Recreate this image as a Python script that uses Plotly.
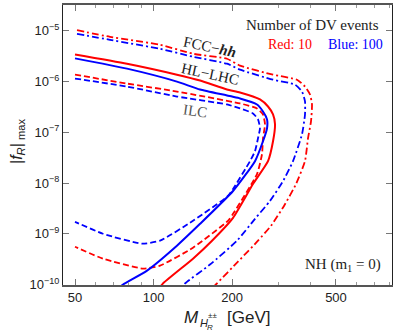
import plotly.graph_objects as go

# ---------------- data ----------------
# FCC-hh, 10 events (red dash-dot)
fcc10_M = [50.9, 68.1, 105.9, 141.6, 191.1, 214.4, 286.9, 354.5, 380.4, 397.6, 404.6, 401.1, 390.6, 380.4, 351.3, 316.1, 281.8, 251.3, 210.6, 175.0, 169.0]
fcc10_f = [1.03e-5, 7.62e-6, 5.31e-6, 3.54e-6, 2.82e-6, 2.06e-6, 1.37e-6, 1.09e-6, 7.97e-7, 5.56e-7, 3.54e-7, 1.64e-7, 7.62e-8, 2.70e-8, 9.55e-9, 3.54e-9, 1.44e-9, 7.3e-10, 2.82e-10, 1.05e-10, 8.8e-11]
# FCC-hh, 100 events (blue dash-dot)
fcc100_M = [50.9, 68.1, 105.9, 141.6, 191.1, 214.4, 286.9, 348.3, 370.5, 380.4, 380.4, 370.5, 342.2, 313.3, 279.3, 244.7, 208.8, 164.5, 132.0, 127.4]
fcc100_f = [8.73e-6, 6.66e-6, 4.43e-6, 3.09e-6, 2.25e-6, 1.72e-6, 1.09e-6, 8.73e-7, 6.37e-7, 4.06e-7, 2.25e-7, 9.14e-8, 2.70e-8, 1.09e-8, 4.44e-9, 1.97e-9, 7.3e-10, 2.47e-10, 1.05e-10, 8.3e-11]
# HL-LHC, 10 events (red solid)
hl10_M = [50.0, 79.1, 122.9, 150.7, 191.1, 214.4, 255.7, 274.5, 286.9, 292.0, 286.9, 274.5, 240.4, 201.6, 167.5, 141.6, 108.7, 104.9]
hl10_f = [3.43e-6, 2.25e-6, 1.37e-6, 1.05e-6, 7.0e-7, 6.1e-7, 4.44e-7, 3.23e-7, 2.25e-7, 1.44e-7, 6.66e-8, 2.70e-8, 9.55e-9, 2.06e-9, 7.3e-10, 3.23e-10, 1.05e-10, 8.3e-11]
# HL-LHC, 100 events (blue solid)
hl100_M = [50.0, 79.1, 122.9, 150.7, 214.4, 249.1, 262.6, 272.1, 272.1, 262.6, 244.7, 201.6, 150.7, 122.9, 94.4, 76.4, 73.1]
hl100_f = [2.87e-6, 1.80e-6, 1.0e-6, 6.97e-7, 4.65e-7, 3.54e-7, 2.58e-7, 1.80e-7, 1.20e-7, 6.66e-8, 2.70e-8, 6.97e-9, 1.57e-9, 5.82e-10, 1.88e-10, 1.0e-10, 8.3e-11]
# ILC, 10 events (red dashed)
ilc10_M = [50.0, 79.1, 122.9, 214.4, 249.1, 262.6, 267.3, 262.6, 260.3, 249.1, 201.6, 192.8, 141.6, 105.9, 91.1, 64.0, 50.0]
ilc10_f = [1.37e-6, 9.14e-7, 6.37e-7, 3.71e-7, 2.96e-7, 2.25e-7, 1.44e-7, 7.62e-8, 3.71e-8, 1.50e-8, 2.47e-9, 1.80e-9, 5.31e-10, 2.36e-10, 2.06e-10, 3.23e-10, 5.56e-10]
# ILC, 100 events (blue dashed)
ilc100_M = [50.0, 79.1, 122.9, 191.1, 214.4, 240.4, 251.3, 255.7, 251.3, 244.7, 234.2, 201.6, 192.8, 141.6, 105.9, 90.3, 64.0, 50.0]
ilc100_f = [1.15e-6, 7.97e-7, 5.08e-7, 3.54e-7, 2.96e-7, 2.36e-7, 1.80e-7, 1.20e-7, 7.62e-8, 4.24e-8, 2.70e-8, 7.62e-9, 5.56e-9, 1.80e-9, 7.3e-10, 6.37e-10, 1.0e-9, 1.72e-9]

x_tickvals = [50, 100, 200, 500]
x_ticktext = ["50", "100", "200", "500"]
x_minor = [60, 70, 80, 90, 150, 300, 400, 600, 700, 800]
y_tickvals = [1e-10, 1e-9, 1e-8, 1e-7, 1e-6, 1e-5]
y_ticktext = ["10<sup>\u221210</sup>", "10<sup>\u22129</sup>", "10<sup>\u22128</sup>",
              "10<sup>\u22127</sup>", "10<sup>\u22126</sup>", "10<sup>\u22125</sup>"]

RED = "#ff0000"
BLUE = "#0000ff"
DASHDOT = "7px,3px,2px,3px"
DASH = "6px,3px"

fig = go.Figure()

def add(M, f, color, dash, width):
    fig.add_trace(go.Scatter(x=M, y=f, mode="lines",
                             line=dict(color=color, dash=dash, width=width,
                                       shape="spline", smoothing=0.5),
                             showlegend=False, hoverinfo="skip"))

add(fcc10_M, fcc10_f, RED, DASHDOT, 1.8)
add(fcc100_M, fcc100_f, BLUE, DASHDOT, 1.8)
add(ilc10_M, ilc10_f, RED, DASH, 1.8)
add(ilc100_M, ilc100_f, BLUE, DASH, 1.8)
add(hl10_M, hl10_f, RED, "solid", 2)
add(hl100_M, hl100_f, BLUE, "solid", 2)

fig.update_xaxes(type="log", range=[1.653, 2.9136],
                 tickvals=x_tickvals, ticktext=x_ticktext,
                 ticks="inside", ticklen=6, tickcolor="#777", tickwidth=1,
                 minor=dict(tickvals=x_minor, ticks="inside", ticklen=3, tickcolor="#999"),
                 showline=True, linecolor="#555", linewidth=1.5, mirror="ticks",
                 showgrid=False, zeroline=False,
                 tickfont=dict(family="Liberation Sans, Arial", size=13, color="#222"))
fig.update_yaxes(type="log", range=[-10.01, -4.49],
                 tickvals=y_tickvals, ticktext=y_ticktext,
                 ticks="inside", ticklen=6, tickcolor="#777", tickwidth=1,
                 showline=True, linecolor="#222", linewidth=1, mirror="ticks",
                 showgrid=False, zeroline=False,
                 tickfont=dict(family="Liberation Sans, Arial", size=13, color="#222"))

serif = "Liberation Serif, Times New Roman, serif"
sans = "Liberation Sans, Arial, sans-serif"
ann = [
    dict(text="FCC\u2212<b><i>hh</i></b>", x=0.447, y=0.851, textangle=12,
         font=dict(family=serif, size=15, color="#222")),
    dict(text="HL\u2212LHC", x=0.447, y=0.755, textangle=12,
         font=dict(family=serif, size=15, color="#222")),
    dict(text="ILC", x=0.401, y=0.621, textangle=8,
         font=dict(family=serif, size=15, color="#555")),
    dict(text="Number of DV events", x=0.757, y=0.929,
         font=dict(family=serif, size=15, color="#222")),
    dict(text="Red: 10", x=0.69, y=0.858,
         font=dict(family=serif, size=14, color=RED)),
    dict(text="Blue: 100", x=0.89, y=0.858,
         font=dict(family=serif, size=14, color=BLUE)),
    dict(text="NH (m<sub>1</sub> = 0)", x=0.851, y=0.071,
         font=dict(family=serif, size=15, color="#222")),
    dict(text="|<i>f</i><sub><i>R</i></sub>|<sub> max</sub>", x=-0.14, y=0.514, textangle=-90,
         font=dict(family=sans, size=16, color="#222")),
    # x-axis title, built from pieces so the stacked sub/superscripts sit like the reference
    dict(text="<i>M</i>", x=0.392, y=-0.117, font=dict(family=sans, size=17, color="#222")),
    dict(text="<i>H</i>", x=0.4286, y=-0.1348, font=dict(family=sans, size=11, color="#222")),
    dict(text="\u00b1\u00b1", x=0.4529, y=-0.108, font=dict(family=sans, size=8, color="#222")),
    dict(text="<i>R</i>", x=0.4468, y=-0.1525, font=dict(family=sans, size=8, color="#222")),
    dict(text="[GeV]", x=0.5653, y=-0.117, font=dict(family=sans, size=17, color="#222")),
]
for a in ann:
    a.update(xref="paper", yref="paper", showarrow=False, xanchor="center", yanchor="middle")
fig.update_layout(annotations=ann)

fig.update_layout(width=399, height=335, margin=dict(l=63, r=7, t=3, b=50),
                  paper_bgcolor="white", plot_bgcolor="white")

fig.write_html("out.html", config={"displayModeBar": False},
               post_script="document.body.style.margin='0px';")
